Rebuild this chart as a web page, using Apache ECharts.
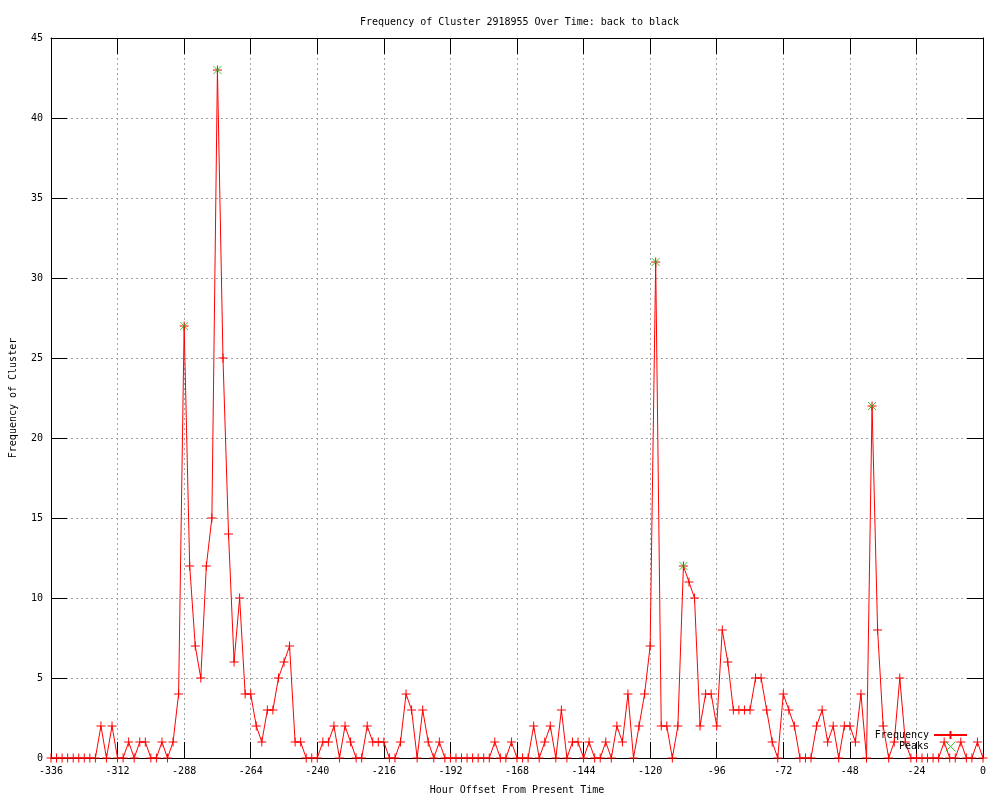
<!DOCTYPE html>
<html>
<head>
<meta charset="utf-8">
<script src="https://cdn.jsdelivr.net/npm/echarts@6/dist/echarts.min.js"></script>
<style>
html,body{margin:0;padding:0;background:#fff;}
#chart{width:1000px;height:800px;}
</style>
</head>
<body>
<div id="chart"></div>
<script>
// Hour offsets (x) and frequencies (y)
var hours = [-336,-334,-332,-330,-328,-326,-324,-322,-320,-318,-316,-314,-312,-310,-308,-306,-304,-302,-300,-298,
-296,-294,-292,-290,-288,-286,-284,-282,-280,-278,-276,-274,-272,-270,-268,-266,-264,-262,-260,-258,
-256,-254,-252,-250,-248,-246,-244,-242,-240,-238,-236,-234,-232,-230,-228,-226,-224,-222,-220,-218,
-216,-214,-212,-210,-208,-206,-204,-202,-200,-198,-196,-194,-192,-190,-188,-186,-184,-182,-180,-178,
-176,-174,-172,-170,-168,-166,-164,-162,-160,-158,-156,-154,-152,-150,-148,-146,-144,-142,-140,-138,
-136,-134,-132,-130,-128,-126,-124,-122,-120,-118,-116,-114,-112,-110,-108,-106,-104,-102,-100,-98,
-96,-94,-92,-90,-88,-86,-84,-82,-80,-78,-76,-74,-72,-70,-68,-66,-64,-62,-60,-58,
-56,-54,-52,-50,-48,-46,-44,-42,-40,-38,-36,-34,-32,-30,-28,-26,-24,-22,-20,-18,
-16,-14,-12,-10,-8,-6,-4,-2,0];
var frequency = [0,0,0,0,0,0,0,0,0,2,0,2,0,0,1,0,1,1,0,0,
1,0,1,4,27,12,7,5,12,15,43,25,14,6,10,4,4,2,1,3,
3,5,6,7,1,1,0,0,0,1,1,2,0,2,1,0,0,2,1,1,
1,0,0,1,4,3,0,3,1,0,1,0,0,0,0,0,0,0,0,0,
1,0,0,1,0,0,0,2,0,1,2,0,3,0,1,1,0,1,0,0,
1,0,2,1,4,0,2,4,7,31,2,2,0,2,12,11,10,2,4,4,
2,8,6,3,3,3,3,5,5,3,1,0,4,3,2,0,0,0,2,3,
1,2,0,2,2,1,4,0,22,8,2,0,1,5,1,0,0,0,0,0,
0,1,0,0,1,0,0,1,0];
var peakHours = [-288,-276,-118,-108,-40];
var peakValues = [27,43,31,12,22];

var freqData = hours.map(function(h,i){return [h, frequency[i]];});
var peakData = peakHours.map(function(h,i){return [h, peakValues[i]];});

var FONT = 'DejaVu Sans Mono';
var plusPath = 'path://M0,5 L10,5 M5,0 L5,10';
var crossPath = 'path://M0,0 L10,10 M10,0 L0,10';

function axisBase(show){
  return {
    axisLine:{show:true, onZero:false, lineStyle:{color:'#000', width:1}},
    axisTick:{show:true, inside:true, length:16, lineStyle:{color:'#000', width:1}},
    axisLabel:{show:show, color:'#000', fontFamily:FONT, fontSize:10, margin:8},
    splitLine:{show:show, lineStyle:{color:'#a0a0a0', type:[2,3], width:1}}
  };
}

var chart = echarts.init(document.getElementById('chart'), null, {renderer:'canvas'});
var option = {
  animation:false,
  backgroundColor:'#fff',
  title:{
    text:'Frequency of Cluster 2918955 Over Time: back to black',
    left:355, top:12,
    textStyle:{fontFamily:FONT, fontSize:10, fontWeight:'normal', color:'#000'}
  },
  grid:{left:50, right:17, top:38, bottom:40, containLabel:false},
  legend:{
    orient:'vertical', align:'right', right:27, top:725, itemGap:1,
    itemWidth:33, itemHeight:10,
    textStyle:{fontFamily:FONT, fontSize:10, color:'#000'},
    data:[{name:'Frequency'}, {name:'Peaks', itemStyle:{borderWidth:1}}]
  },
  xAxis:[
    Object.assign({type:'value', min:-336, max:0, interval:24, position:'bottom',
      name:'Hour Offset From Present Time', nameLocation:'middle', nameGap:27,
      nameTextStyle:{fontFamily:FONT, fontSize:10, color:'#000'}}, axisBase(true)),
    Object.assign({type:'value', min:-336, max:0, interval:24, position:'top'}, axisBase(false))
  ],
  yAxis:[
    Object.assign({type:'value', min:0, max:45, interval:5, position:'left',
      name:'Frequency of Cluster', nameLocation:'middle', nameGap:33, nameRotate:90,
      nameTextStyle:{fontFamily:FONT, fontSize:10, color:'#000'}}, axisBase(true)),
    Object.assign({type:'value', min:0, max:45, interval:5, position:'right'}, axisBase(false))
  ],
  series:[
    {
      name:'Frequency', type:'line', xAxisIndex:0, yAxisIndex:0,
      data:freqData, symbol:plusPath, symbolSize:9, showSymbol:true, showAllSymbol:true,
      lineStyle:{color:'#ff0000', width:1},
      itemStyle:{color:'#ff0000', borderColor:'#ff0000', borderWidth:1},
      emphasis:{disabled:true}, z:2
    },
    {
      name:'Peaks', type:'scatter', xAxisIndex:0, yAxisIndex:0,
      data:peakData, symbol:crossPath, symbolSize:8, symbolKeepAspect:true,
      itemStyle:{color:'#00c000', borderColor:'#00c000', borderWidth:1},
      emphasis:{disabled:true}, z:3
    }
  ]
};
chart.setOption(option);
</script>
</body>
</html>
